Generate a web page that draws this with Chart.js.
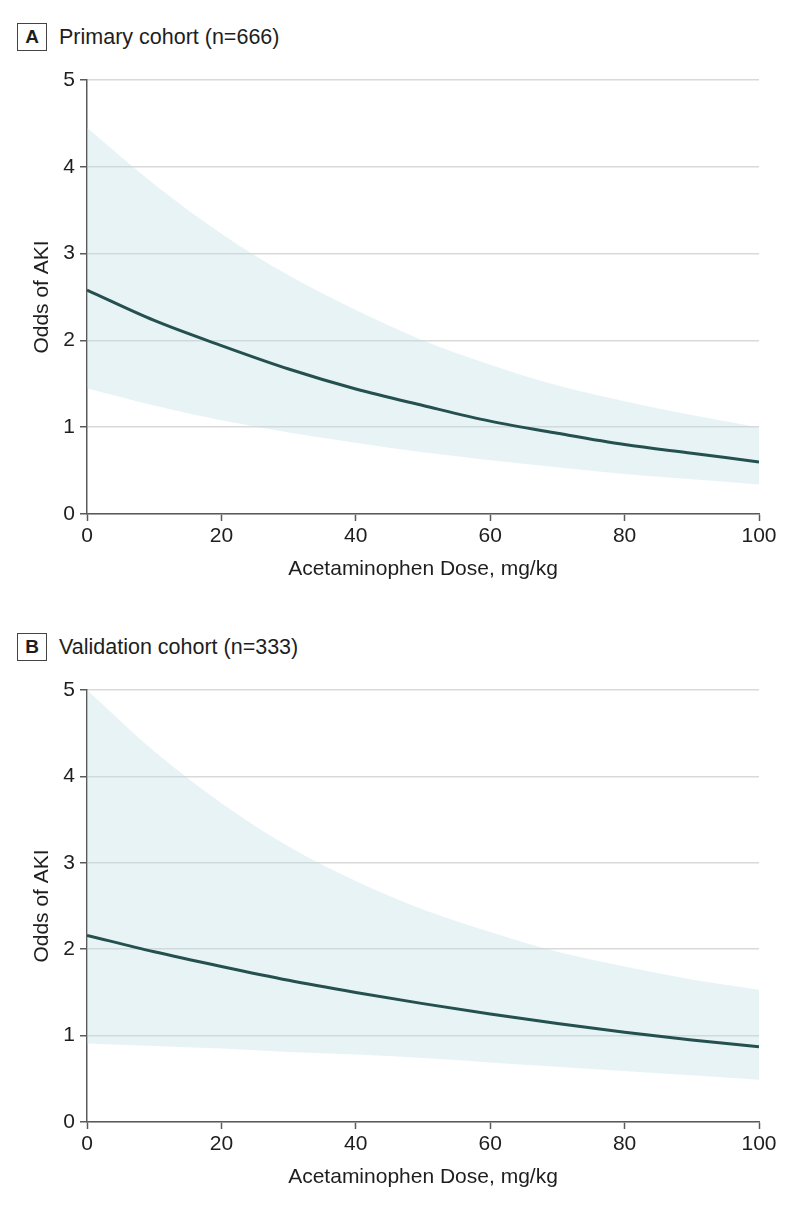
<!DOCTYPE html>
<html>
<head>
<meta charset="utf-8">
<script src="https://cdn.jsdelivr.net/npm/chart.js@4"></script>
<style>
  body { margin: 0; width: 794px; height: 1207px; background: #fff; position: relative; overflow: hidden;
         font-family: "Liberation Sans", Arial, sans-serif; color: #1e1e1e; }
  .panel-title { position: absolute; left: 17px; height: 28px; display: flex; align-items: center; font-size: 21.5px; }
  .panel-title .letter { width: 28px; height: 26px; border: 1.5px solid #444; display: flex; align-items: center;
         justify-content: center; font-weight: bold; font-size: 19px; margin-right: 12px; }
  .wrap { position: absolute; left: 0; width: 794px; }
</style>
</head>
<body>
<div class="panel-title" style="top:23px"><span class="letter">A</span>Primary cohort (n=666)</div>
<div class="wrap" style="top:60px;height:534px"><canvas id="chartA"></canvas></div>
<div class="panel-title" style="top:633px"><span class="letter">B</span>Validation cohort (n=333)</div>
<div class="wrap" style="top:670px;height:532px"><canvas id="chartB"></canvas></div>
<script>
// dose grid (mg/kg)
const doses = [0, 10, 20, 30, 40, 50, 60, 70, 80, 90, 100];

// panel A - primary cohort
const primaryOdds  = [2.58, 2.23, 1.94, 1.67, 1.44, 1.25, 1.07, 0.93, 0.80, 0.70, 0.60];
const primaryUpper = [4.45, 3.80, 3.23, 2.75, 2.35, 2.00, 1.72, 1.48, 1.30, 1.14, 1.00];
const primaryLower = [1.45, 1.25, 1.08, 0.94, 0.82, 0.71, 0.62, 0.54, 0.46, 0.40, 0.34];

// panel B - validation cohort
const validOdds  = [2.16, 1.97, 1.80, 1.64, 1.50, 1.37, 1.25, 1.14, 1.04, 0.95, 0.87];
const validUpper = [5.00, 4.29, 3.69, 3.19, 2.79, 2.46, 2.20, 1.97, 1.80, 1.65, 1.53];
const validLower = [0.91, 0.88, 0.85, 0.81, 0.78, 0.74, 0.69, 0.64, 0.59, 0.54, 0.49];

const xTicks = [0, 20, 40, 60, 80, 100];
const yTicks = [0, 1, 2, 3, 4, 5];

const FONT = "'Liberation Sans', Arial, sans-serif";
const axisColor = "#5a5a5a";

const toPoints = (ys) => ys.map((y, i) => ({ x: doses[i], y }));

function makeChart(id, odds, upper, lower) {
    return new Chart(document.getElementById(id), {
        type: "line",
        data: {
            datasets: [
                {
                    data: toPoints(odds),
                    borderColor: "#24514f",
                    borderWidth: 3,
                    pointRadius: 0,
                    fill: false,
                    cubicInterpolationMode: "monotone",
                },
                {
                    data: toPoints(upper),
                    borderWidth: 0,
                    borderColor: "rgba(0,0,0,0)",
                    backgroundColor: "rgba(190, 222, 226, 0.35)",
                    pointRadius: 0,
                    fill: "+1",
                    cubicInterpolationMode: "monotone",
                },
                {
                    data: toPoints(lower),
                    borderWidth: 0,
                    borderColor: "rgba(0,0,0,0)",
                    pointRadius: 0,
                    fill: false,
                    cubicInterpolationMode: "monotone",
                },
            ],
        },
        options: {
            responsive: true,
            maintainAspectRatio: false,
            animation: false,
            layout: { padding: { top: 20, right: 35, left: 0, bottom: 0 } },
            plugins: { legend: { display: false }, tooltip: { enabled: false } },
            scales: {
                x: {
                    type: "linear",
                    min: 0,
                    max: 100,
                    afterBuildTicks: (s) => { s.ticks = xTicks.map((v) => ({ value: v })); },
                    afterFit: (s) => { s.height = 80; },
                    grid: { drawOnChartArea: false, drawTicks: true, tickLength: 7, tickColor: axisColor, tickWidth: 1.5 },
                    border: { color: axisColor, width: 1.5 },
                    ticks: { color: "#1e1e1e", font: { family: FONT, size: 21 }, padding: 3, maxRotation: 0 },
                    title: {
                        display: true,
                        text: "Acetaminophen Dose, mg/kg",
                        color: "#1e1e1e",
                        font: { family: FONT, size: 21 },
                        padding: { top: 0, bottom: 12 },
                    },
                },
                y: {
                    min: 0,
                    max: 5,
                    afterBuildTicks: (s) => { s.ticks = yTicks.map((v) => ({ value: v })); },
                    afterFit: (s) => { s.width = 87; },
                    grid: { color: "#d9d9d9", lineWidth: 1.5, tickLength: 7, tickColor: axisColor, tickWidth: 1.5 },
                    border: { color: axisColor, width: 1.5 },
                    ticks: { color: "#1e1e1e", font: { family: FONT, size: 21 }, padding: 5 },
                    title: {
                        display: true,
                        text: "Odds of AKI",
                        color: "#1e1e1e",
                        font: { family: FONT, size: 21 },
                        padding: { top: 30, bottom: 0 },
                    },
                },
            },
        },
    });
}

makeChart("chartA", primaryOdds, primaryUpper, primaryLower);
makeChart("chartB", validOdds, validUpper, validLower);
</script>
</body>
</html>
